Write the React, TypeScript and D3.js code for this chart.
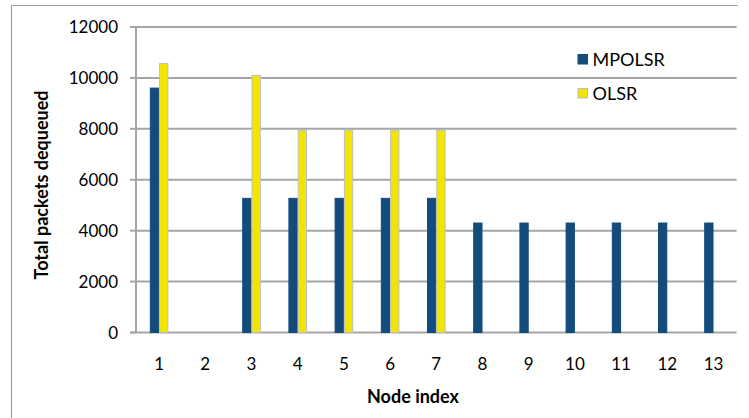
import React from "react";
import * as d3 from "d3";

const categories = ["1","2","3","4","5","6","7","8","9","10","11","12","13"];
const mpolsr = [9600, 0, 5270, 5270, 5270, 5270, 5270, 4300, 4300, 4300, 4300, 4300, 4300];
const olsr = [10570, 0, 10100, 7940, 7940, 7940, 7940, 0, 0, 0, 0, 0, 0];
const yTicks = [0, 2000, 4000, 6000, 8000, 10000, 12000];
const seriesNames = ["MPOLSR", "OLSR"];
const seriesColors = ["#134B7D", "#F2E600"];
const seriesStroke = ["#134B7D", "#BFBFBF"];

export default function App() {
  const W = 749, H = 418;
  const left = 136, right = 736.6, top = 27, bottom = 332.5;
  const x = d3.scaleBand().domain(categories).range([left, right]).padding(0);
  const y = d3.scaleLinear().domain([0, 12000]).range([bottom, top]);
  const barW = 9.3;
  const font = "Lato, 'Open Sans', sans-serif";
  const grid = "#A6A6A6";
  const series = [mpolsr, olsr];
  return (
    <svg width={W} height={H} style={{ position: "absolute", left: 0, top: 0, background: "#fff" }}>
      <rect x={0} y={0} width={W} height={H} fill="#fff" />
      <path d={`M11.5,${H + 2} V5.5 H738`} fill="none" stroke="#A0A0A0" strokeWidth={1.2} />
      {yTicks.map((t) => (
        <g key={t}>
          {t > 0 && <line x1={left} x2={right} y1={y(t)} y2={y(t)} stroke={grid} strokeWidth={2} />}
          <line x1={130} x2={left} y1={y(t)} y2={y(t)} stroke={grid} strokeWidth={2} />
          <text x={118} y={y(t)} dy="0.36em" textAnchor="end" fontFamily={font} fontSize={17} fill="#000">{t}</text>
        </g>
      ))}
      <line x1={130} x2={right} y1={bottom} y2={bottom} stroke={grid} strokeWidth={2} />
      <line x1={left} x2={left} y1={top} y2={bottom} stroke={grid} strokeWidth={2} />
      {categories.map((c, i) => {
        const cx = (x(c) as number) + x.bandwidth() / 2;
        return (
          <g key={c}>
            {series.map((s, k) => {
              const v = s[i];
              if (!v) return null;
              const bx = cx - barW + k * barW;
              return (
                <rect key={k} x={bx + 0.5} y={y(v)} width={barW - 1} height={bottom - y(v)}
                  fill={seriesColors[k]} stroke={seriesStroke[k]} strokeWidth={1} />
              );
            })}
            <text x={cx} y={370} textAnchor="middle" fontFamily={font} fontSize={17} fill="#000">{c}</text>
          </g>
        );
      })}
      <text x={413} y={403} textAnchor="middle" fontFamily={font} fontSize={18} fontWeight="bold" fill="#000">Node index</text>
      <text transform={`translate(48,185) rotate(-90)`} textAnchor="middle" fontFamily={font} fontSize={18} fontWeight="bold" fill="#000">Total packets dequeued</text>
      {seriesNames.map((n, k) => (
        <g key={n}>
          <rect x={578} y={54.5 + k * 34} width={9.5} height={9.5} fill={seriesColors[k]} stroke={seriesStroke[k]} strokeWidth={1} />
          <text x={592.5} y={65.7 + k * 34} fontFamily={font} fontSize={18} fill="#000">{n}</text>
        </g>
      ))}
    </svg>
  );
}
